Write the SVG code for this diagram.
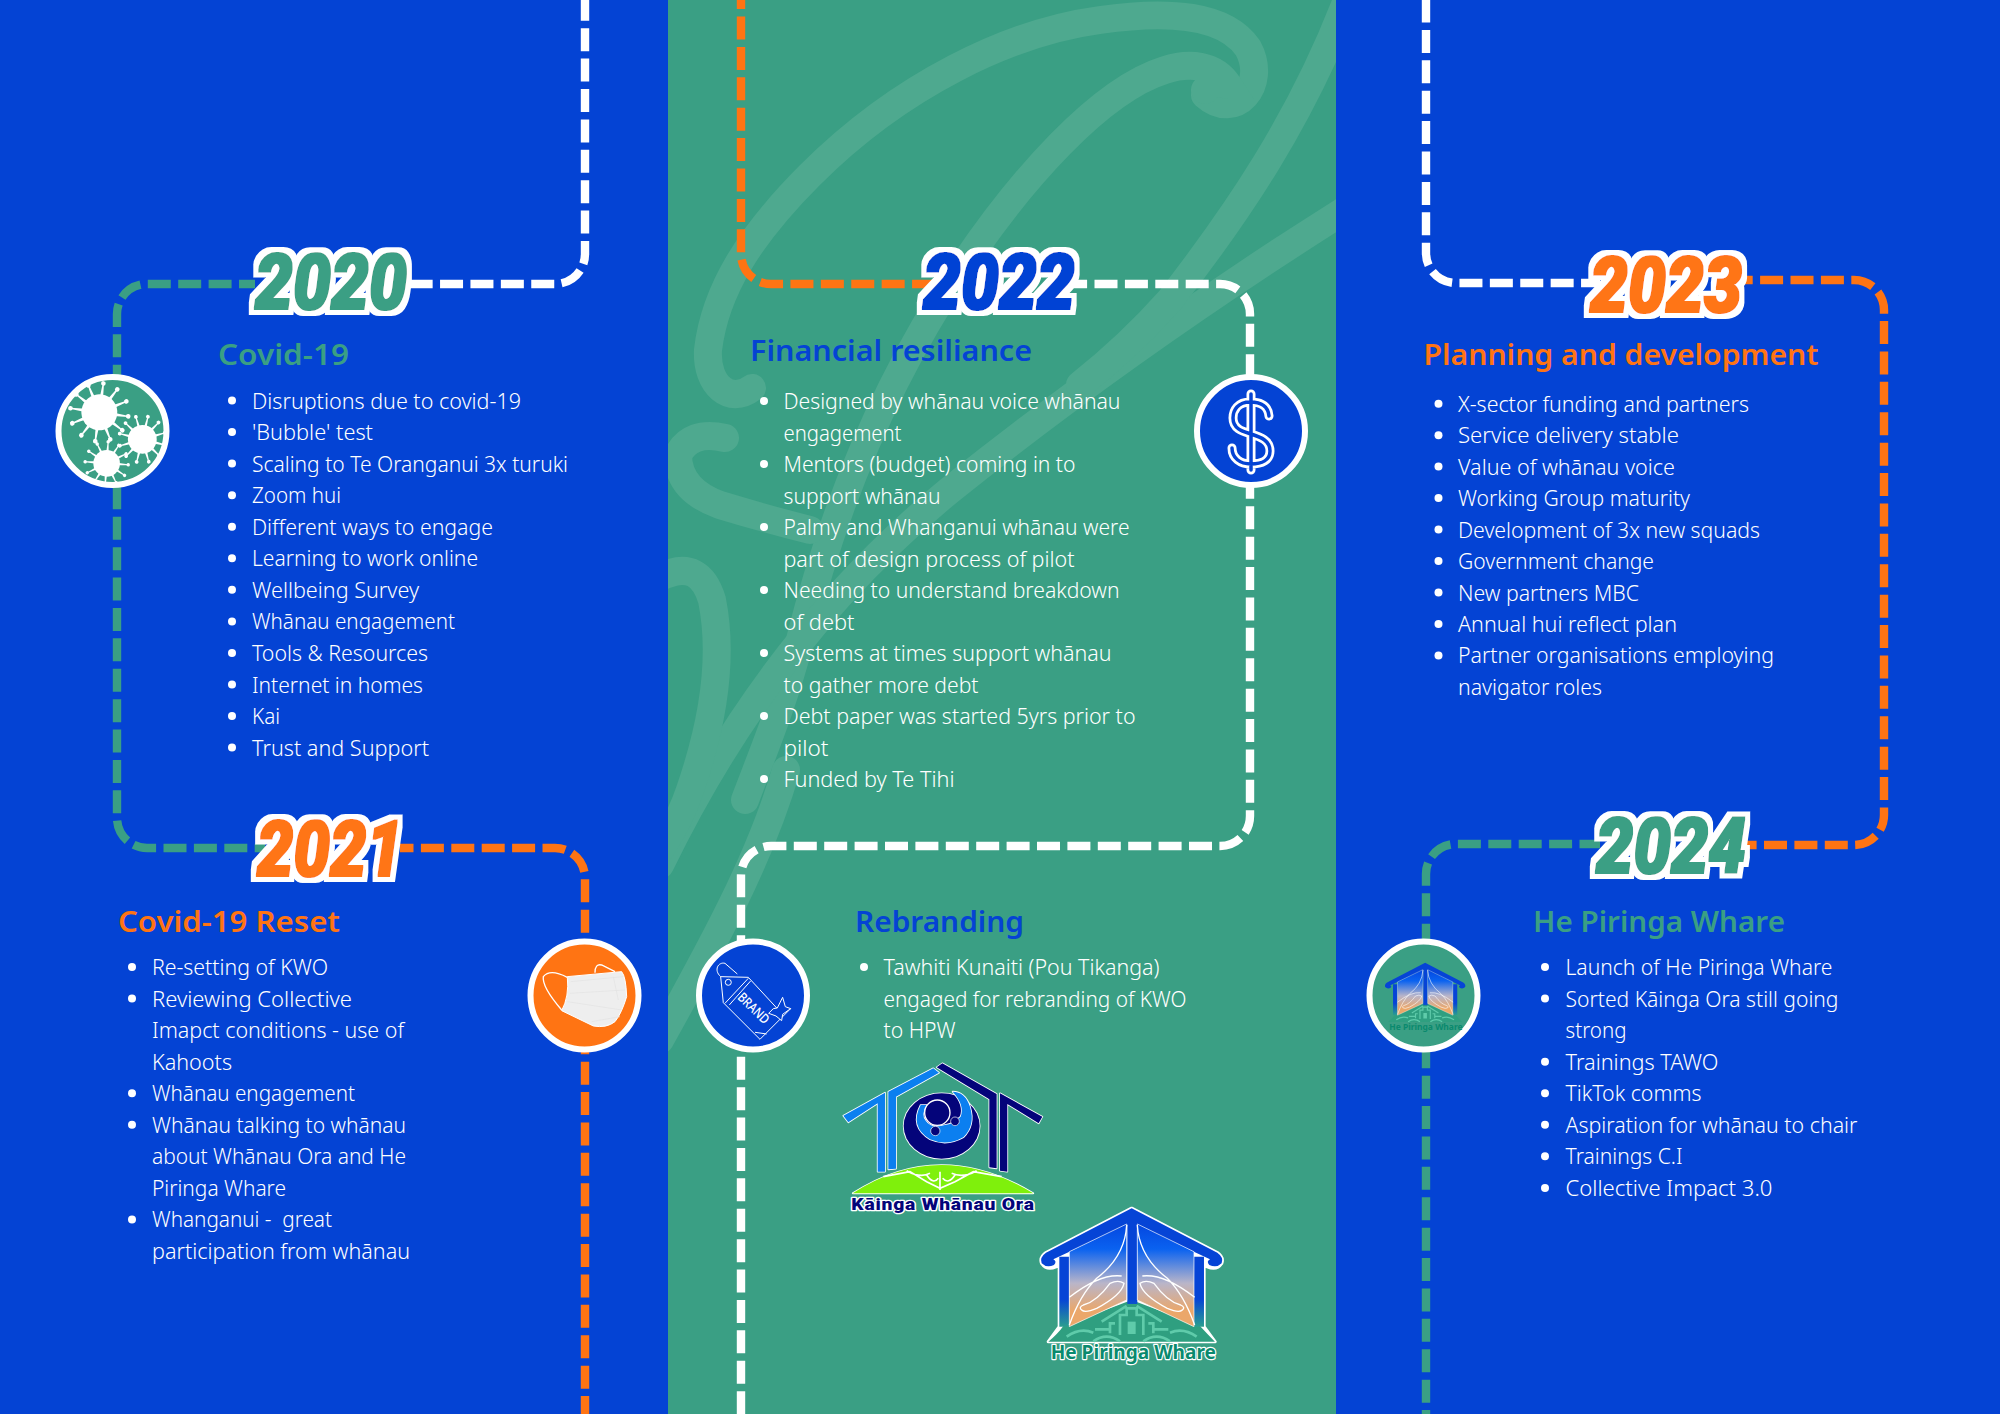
<svg xmlns="http://www.w3.org/2000/svg" xmlns:xlink="http://www.w3.org/1999/xlink" width="2000" height="1414" viewBox="0 0 2000 1414">
<style>
text{font-family:"Noto Sans","Open Sans",sans-serif}
.b{font-size:21px;font-weight:300;fill:#fff;transform:translate(0,1px)}
.h{font-size:29px;font-weight:600;transform:translate(0,.5px)}
.y{font-family:Roboto,"Liberation Sans",sans-serif;font-size:77px;font-weight:900;font-style:italic;filter:url(#out)}
.d{fill:#fff}
.c{fill:none;stroke-width:8.4;stroke-dasharray:23 7.4}
.sw{fill:none;stroke:#4ea98f;stroke-linecap:round;stroke-width:28}
.ring{stroke:#fff;stroke-width:6}
.ln{fill:none;stroke:#fff;stroke-width:3;stroke-linejoin:round}
.gr{fill:#3a9f84}.bl{fill:#0443d4}.or{fill:#ff7413}
.ob{stroke:#fff;stroke-width:5;stroke-linejoin:round;paint-order:stroke}
</style>
<defs>
<filter id="out" x="-20%" y="-30%" width="140%" height="160%">
<feMorphology in="SourceGraphic" operator="dilate" radius="1.4" result="bold"/>
<feMorphology in="SourceAlpha" operator="dilate" radius="5.5" result="w"/>
<feFlood flood-color="#fff"/><feComposite in2="w" operator="in" result="white"/>
<feMerge><feMergeNode in="white"/><feMergeNode in="bold"/></feMerge>
</filter>
<clipPath id="pc"><rect x="668" y="0" width="668" height="1414"/></clipPath>
<linearGradient id="pg" gradientUnits="userSpaceOnUse" x1="0" y1="70" x2="0" y2="380"><stop offset="0" stop-color="#0446e0"/><stop offset=".25" stop-color="#0a62f0"/><stop offset=".58" stop-color="#b9b5c9"/><stop offset=".85" stop-color="#eba76a"/></linearGradient>
<linearGradient id="po" gradientUnits="userSpaceOnUse" x1="0" y1="60" x2="0" y2="390"><stop offset=".72" stop-color="#0644d6"/><stop offset="1" stop-color="#2fa887"/></linearGradient>
<g id="sp"><path d="M0 -.16L1.72 -.04V.04L0 .16Z" fill="#fff"/><circle cx="1.75" cy="0" r=".14" fill="#fff"/></g>
<g id="vi"><circle r="1.08" fill="#fff"/><use xlink:href="#sp"/><use xlink:href="#sp" transform="rotate(30)"/><use xlink:href="#sp" transform="rotate(60)"/><use xlink:href="#sp" transform="rotate(90)"/><use xlink:href="#sp" transform="rotate(120)"/><use xlink:href="#sp" transform="rotate(150)"/><use xlink:href="#sp" transform="rotate(180)"/><use xlink:href="#sp" transform="rotate(210)"/><use xlink:href="#sp" transform="rotate(240)"/><use xlink:href="#sp" transform="rotate(270)"/><use xlink:href="#sp" transform="rotate(300)"/><use xlink:href="#sp" transform="rotate(330)"/></g>
<g id="hl"><path d="M290 75Q285 170 200 235Q150 285 118 375M118 292Q210 220 275 228M155 330Q165 340 200 325Q275 285 282 250Q265 238 240 250Q200 305 160 315Q145 322 155 330Z" fill="none" stroke="#fff" stroke-width="4"/></g>
<g id="hpw">
<path d="M55 425Q85 400 100 378L305 300L510 378Q530 400 555 425Z" fill="#2f9f80"/>
<path d="M270 405V345H290V325H320V345H340V405M240 400V370H255M370 400V370H355M195 388H240M370 388H415M215 365L290 318M395 365L320 318M110 410Q150 382 190 398M500 410Q460 382 420 398M190 424Q230 396 270 424M340 424Q380 396 420 424" fill="none" stroke="#5fcbaa" stroke-width="8"/>
<path d="M293 365H317V402H293Z" fill="#5fcbaa"/>
<path d="M305 25L562 158Q582 172 575 190Q560 205 538 195Q528 185 540 178L305 68L70 178Q82 185 72 195Q50 205 35 190Q28 172 48 158Z" fill="#0644d6"/>
<path d="M88 170H118V380H88ZM492 170H522V380H492ZM292 65H322V312H292Z" fill="url(#po)"/>
<path d="M118 155L290 72V300L118 380Z" fill="url(#pg)" stroke="#fff" stroke-width="2"/>
<path d="M322 72L492 155V380L322 300Z" fill="url(#pg)" stroke="#fff" stroke-width="2"/>
<use xlink:href="#hl"/><use xlink:href="#hl" transform="translate(612,0) scale(-1,1)"/>
</g>
</defs>

<rect id="bg" width="2000" height="1414" fill="#0443d4"/>
<rect id="panel" x="668" width="668" height="1414" class="gr"/>
<g id="swirl" clip-path="url(#pc)">
<path class="sw" d="M1205 95C1235 122 1268 85 1248 48C1225 15 1170 10 1100 20C1010 32 900 85 810 175C750 235 715 290 708 350C706 385 730 405 752 388"/>
<path class="sw" d="M1205 90C1215 78 1222 85 1228 85C1215 65 1190 62 1165 70C1100 90 1020 180 960 270C900 360 840 480 800 640C785 700 760 760 745 800"/>
<path class="sw" stroke-width="30" d="M1345 210C1250 270 1100 370 950 490C840 580 740 700 660 865"/>
<path class="sw" stroke-width="24" d="M1345 5C1300 120 1240 210 1170 300Q1130 345 1080 385"/>
<path class="sw" stroke-width="26" d="M725 438Q690 430 678 455Q678 490 720 505Q770 520 810 530"/>
<path class="sw" stroke-width="28" d="M665 575Q700 560 712 600Q728 680 690 790Q680 820 660 850"/>
<path class="sw" d="M786 770C760 860 710 950 660 1040"/>
</g>

<g id="connectors">
<path class="c" stroke="#fff" stroke-dashoffset="2.2" d="M585 0V254A30 30 0 0 1 555 284H410"/>
<path class="c" stroke="#3a9f84" stroke-dashoffset="7" d="M255 284H147A30 30 0 0 0 117 314V818A30 30 0 0 0 147 848H265"/>
<path class="c" stroke="#ff7413" stroke-dashoffset="9.5" d="M400 848H555A30 30 0 0 1 585 878V1414"/>
<path class="c" stroke="#ff7413" stroke-dashoffset="13.9" d="M741 0V254A30 30 0 0 0 771 284H935"/>
<path class="c" stroke="#fff" stroke-dashoffset="5.9" d="M1070 284H1220A30 30 0 0 1 1250 314V816A30 30 0 0 1 1220 846H771A30 30 0 0 0 741 876V1414"/>
<path class="c" stroke="#fff" stroke-dashoffset=".5" d="M1426 0V253A30 30 0 0 0 1456 283H1600"/>
<path class="c" stroke="#ff7413" stroke-dashoffset="10.3" d="M1740 280H1854A30 30 0 0 1 1884 310V815A30 30 0 0 1 1854 845H1740"/>
<path class="c" stroke="#3a9f84" stroke-dashoffset="2.5" d="M1600 844H1456A30 30 0 0 0 1426 874V1414"/>
</g>

<g id="n2020">
<circle cx="112.5" cy="431" r="54" class="gr ring"/>
<g transform="translate(50,370) scale(.3333)"><use xlink:href="#vi" transform="translate(148,127) scale(50) rotate(8)"/><use xlink:href="#vi" transform="translate(277,208) scale(40) rotate(14)"/><use xlink:href="#vi" transform="translate(170,280) scale(37) rotate(4)"/></g>
<text class="y gr" x="255" y="309" textLength="152" lengthAdjust="spacingAndGlyphs">2020</text>
<text class="h gr" x="218" y="364" textLength="131" lengthAdjust="spacingAndGlyphs">Covid-19</text>
<g class="d"><circle cx="232" cy="400.5" r="4"/><circle cx="232" cy="432" r="4"/><circle cx="232" cy="463.6" r="4"/><circle cx="232" cy="495.2" r="4"/><circle cx="232" cy="526.7" r="4"/><circle cx="232" cy="558.3" r="4"/><circle cx="232" cy="589.8" r="4"/><circle cx="232" cy="621.4" r="4"/><circle cx="232" cy="653" r="4"/><circle cx="232" cy="684.5" r="4"/><circle cx="232" cy="716" r="4"/><circle cx="232" cy="747.6" r="4"/></g>
<text class="b" x="252" y="407.5" textLength="269" lengthAdjust="spacingAndGlyphs">Disruptions due to covid-19</text>
<text class="b" x="252" y="439" textLength="121" lengthAdjust="spacingAndGlyphs">'Bubble' test</text>
<text class="b" x="252" y="470.6" textLength="316" lengthAdjust="spacingAndGlyphs">Scaling to Te Oranganui 3x turuki</text>
<text class="b" x="252" y="502.2" textLength="89" lengthAdjust="spacingAndGlyphs">Zoom hui</text>
<text class="b" x="252" y="533.7" textLength="241" lengthAdjust="spacingAndGlyphs">Different ways to engage</text>
<text class="b" x="252" y="565.3" textLength="226" lengthAdjust="spacingAndGlyphs">Learning to work online</text>
<text class="b" x="252" y="596.8" textLength="167" lengthAdjust="spacingAndGlyphs">Wellbeing Survey</text>
<text class="b" x="252" y="628.4" textLength="203" lengthAdjust="spacingAndGlyphs">Whānau engagement</text>
<text class="b" x="252" y="660" textLength="176" lengthAdjust="spacingAndGlyphs">Tools &amp; Resources</text>
<text class="b" x="252" y="691.5" textLength="171" lengthAdjust="spacingAndGlyphs">Internet in homes</text>
<text class="b" x="252" y="723" textLength="28" lengthAdjust="spacingAndGlyphs">Kai</text>
<text class="b" x="252" y="754.6" textLength="177" lengthAdjust="spacingAndGlyphs">Trust and Support</text>
</g>

<g id="n2021">
<circle cx="584.5" cy="995.5" r="54" class="or ring"/>
<g transform="translate(480,780) scale(.3333)">
<path d="M262 592Q210 565 190 590Q185 620 245 690M345 578Q345 550 365 555L405 575" fill="none" stroke="#fff" stroke-width="4"/>
<path d="M262 590L425 575Q438 590 440 650Q425 700 405 725Q380 745 340 738L245 692Q268 650 262 590Z" fill="#eee" stroke="#fff" stroke-width="3"/>
<path d="M272 605L430 590M270 640L435 630M262 665L425 690M400 590L415 660M335 725L420 710" fill="none" stroke="#e2e2e2" stroke-width="2"/>
</g>
<text class="y or" x="257" y="875.5" textLength="146" lengthAdjust="spacingAndGlyphs">2021</text>
<text class="h or" x="118" y="931" textLength="222" lengthAdjust="spacingAndGlyphs">Covid-19 Reset</text>
<g class="d"><circle cx="132" cy="967" r="4"/><circle cx="132" cy="998.6" r="4"/><circle cx="132" cy="1093.2" r="4"/><circle cx="132" cy="1124.8" r="4"/><circle cx="132" cy="1219.4" r="4"/></g>
<text class="b" x="152" y="974" textLength="176" lengthAdjust="spacingAndGlyphs">Re-setting of KWO</text>
<text class="b" x="152" y="1005.6" textLength="200" lengthAdjust="spacingAndGlyphs">Reviewing Collective</text>
<text class="b" x="152" y="1037.1" textLength="252" lengthAdjust="spacingAndGlyphs">Imapct conditions - use of</text>
<text class="b" x="152" y="1068.7" textLength="80" lengthAdjust="spacingAndGlyphs">Kahoots</text>
<text class="b" x="152" y="1100.2" textLength="203" lengthAdjust="spacingAndGlyphs">Whānau engagement</text>
<text class="b" x="152" y="1131.8" textLength="254" lengthAdjust="spacingAndGlyphs">Whānau talking to whānau</text>
<text class="b" x="152" y="1163.3" textLength="254" lengthAdjust="spacingAndGlyphs">about Whānau Ora and He</text>
<text class="b" x="152" y="1194.9" textLength="134" lengthAdjust="spacingAndGlyphs">Piringa Whare</text>
<text class="b" x="152" y="1226.4" textLength="180" lengthAdjust="spacingAndGlyphs" xml:space="preserve">Whanganui -  great</text>
<text class="b" x="152" y="1258" textLength="258" lengthAdjust="spacingAndGlyphs">participation from whānau</text>
</g>

<g id="n2022">
<circle cx="1251" cy="431" r="54" class="bl ring"/>
<path d="M1269 416C1268 405 1260 402 1250 402C1238 402 1233 410 1233 418C1233 430 1245 432 1251 434C1260 437 1270 440 1270 451C1270 460 1262 464 1251 464C1240 464 1232 458 1232 448M1251 394V470" fill="none" stroke="#fff" stroke-width="9" stroke-linecap="round"/>
<path d="M1269 416C1268 405 1260 402 1250 402C1238 402 1233 410 1233 418C1233 430 1245 432 1251 434C1260 437 1270 440 1270 451C1270 460 1262 464 1251 464C1240 464 1232 458 1232 448M1251 394V470" fill="none" stroke="#0443d4" stroke-width="3.5" stroke-linecap="round"/>
<text class="y bl" x="923" y="309" textLength="152" lengthAdjust="spacingAndGlyphs">2022</text>
<text class="h bl" x="750" y="360" textLength="282" lengthAdjust="spacingAndGlyphs">Financial resiliance</text>
<g class="d"><circle cx="764" cy="401" r="4"/><circle cx="764" cy="464" r="4"/><circle cx="764" cy="527" r="4"/><circle cx="764" cy="590" r="4"/><circle cx="764" cy="653" r="4"/><circle cx="764" cy="716" r="4"/><circle cx="764" cy="779" r="4"/></g>
<text class="b" x="783.5" y="408" textLength="337" lengthAdjust="spacingAndGlyphs">Designed by whānau voice whānau</text>
<text class="b" x="783.5" y="439.5" textLength="118" lengthAdjust="spacingAndGlyphs">engagement</text>
<text class="b" x="783.5" y="471" textLength="292" lengthAdjust="spacingAndGlyphs">Mentors (budget) coming in to</text>
<text class="b" x="783.5" y="502.5" textLength="157" lengthAdjust="spacingAndGlyphs">support whānau</text>
<text class="b" x="783.5" y="534" textLength="346" lengthAdjust="spacingAndGlyphs">Palmy and Whanganui whānau were</text>
<text class="b" x="783.5" y="565.5" textLength="291" lengthAdjust="spacingAndGlyphs">part of design process of pilot</text>
<text class="b" x="783.5" y="597" textLength="336" lengthAdjust="spacingAndGlyphs">Needing to understand breakdown</text>
<text class="b" x="783.5" y="628.5" textLength="71" lengthAdjust="spacingAndGlyphs">of debt</text>
<text class="b" x="783.5" y="660" textLength="328" lengthAdjust="spacingAndGlyphs">Systems at times support whānau</text>
<text class="b" x="783.5" y="691.5" textLength="195" lengthAdjust="spacingAndGlyphs">to gather more debt</text>
<text class="b" x="783.5" y="723" textLength="352" lengthAdjust="spacingAndGlyphs">Debt paper was started 5yrs prior to</text>
<text class="b" x="783.5" y="754.5" textLength="45" lengthAdjust="spacingAndGlyphs">pilot</text>
<text class="b" x="783.5" y="786" textLength="171" lengthAdjust="spacingAndGlyphs">Funded by Te Tihi</text>
</g>

<g id="nRebranding">
<circle cx="753" cy="995.5" r="54" class="bl ring"/>
<g transform="translate(480,780) scale(.3333)">
<path class="ln" d="M722 590L805 592L905 700L932 686L840 778L730 668ZM735 670L805 595M748 675L812 603M825 757L860 762"/>
<path class="ln" d="M722 590C700 570 715 545 735 550L772 582"/>
<circle class="ln" cx="745" cy="607" r="9"/>
<path d="M892 684L908 652L916 680L932 686L908 703L905 722L888 708L866 700L880 686Z" fill="#0443d4" stroke="#fff" stroke-width="3" stroke-linejoin="round"/>
<text x="0" y="0" transform="translate(770,655) rotate(44)" font-size="40" fill="#fff" font-weight="500" textLength="115" lengthAdjust="spacingAndGlyphs">BRAND</text>
</g>
<text class="h bl" x="855" y="931" textLength="169" lengthAdjust="spacingAndGlyphs">Rebranding</text>
<circle class="d" cx="864" cy="967" r="4"/>
<text class="b" x="883.5" y="974" textLength="276" lengthAdjust="spacingAndGlyphs">Tawhiti Kunaiti (Pou Tikanga)</text>
<text class="b" x="883.5" y="1005.6" textLength="303" lengthAdjust="spacingAndGlyphs">engaged for rebranding of KWO</text>
<text class="b" x="883.5" y="1037" textLength="72" lengthAdjust="spacingAndGlyphs">to HPW</text>
<g id="logoKWO" transform="translate(830,1050) scale(.3333)">
<path class="ob" fill="#0b7ff0" d="M40 197L165 128V365H143V160L55 217Z"/>
<path class="ob" fill="#0b7ff0" d="M175 125L310 55L327 68L198 140V356L175 358Z"/>
<path class="ob" fill="#04047a" d="M320 52L337 40L500 132V355L478 352V148Z"/>
<path class="ob" fill="#04047a" d="M510 130L637 200L626 220L532 162V365L510 362Z"/>
<ellipse class="ob" cx="335" cy="228" rx="114" ry="98" fill="#04047a"/>
<path class="ob" fill="#0b7ff0" d="M272 165Q238 230 300 268Q350 290 400 262Q437 225 420 170Q405 125 368 125Q405 165 392 200Q370 222 345 225Q305 238 287 212Q272 195 290 165Z"/>
<circle cx="322" cy="188" r="38" fill="#04047a" stroke="#fff" stroke-width="4"/>
<circle cx="316" cy="243" r="14" fill="#04047a" stroke="#fff" stroke-width="2"/>
<circle cx="375" cy="214" r="13" fill="#04047a" stroke="#fff" stroke-width="2"/>
<path class="ob" fill="#7ff00c" d="M68 430Q330 260 610 430Z"/>
<path d="M160 380L240 365L290 395L330 415L375 395L430 365L515 380M230 362Q270 385 300 370M440 362Q400 385 365 370M330 365V420M290 375Q310 405 325 385M375 375Q355 405 338 385" fill="none" stroke="#fff" stroke-width="5"/>
<text x="64" y="479" font-size="50" fill="#04047a" stroke="#fff" stroke-width="8" paint-order="stroke" stroke-linejoin="round" textLength="550" lengthAdjust="spacingAndGlyphs" style="font-family:Roboto,'Liberation Sans',sans-serif;font-weight:900;letter-spacing:2px">Kāinga Whānau Ora</text>
</g>
<g id="logoHPW" transform="translate(1030,1200) scale(.3333)">
<path d="M305 25L562 158Q582 172 575 190Q560 212 532 200L522 195V380L555 425H55L88 380V195L78 200Q50 212 35 190Q28 172 48 158Z" fill="#fff" stroke="#fff" stroke-width="10" stroke-linejoin="round"/>
<use xlink:href="#hpw"/>
<text x="62" y="478" font-size="58" font-weight="700" fill="#0a8a6e" stroke="#fff" stroke-width="7" paint-order="stroke" stroke-linejoin="round" textLength="496" lengthAdjust="spacingAndGlyphs">He Piringa Whare</text>
</g>
</g>

<g id="n2023">
<text class="y or" x="1590" y="312" textLength="152" lengthAdjust="spacingAndGlyphs">2023</text>
<text class="h or" x="1423.5" y="364" textLength="395" lengthAdjust="spacingAndGlyphs">Planning and development</text>
<g class="d"><circle cx="1438.5" cy="403.7" r="4"/><circle cx="1438.5" cy="435.2" r="4"/><circle cx="1438.5" cy="466.6" r="4"/><circle cx="1438.5" cy="498.1" r="4"/><circle cx="1438.5" cy="529.5" r="4"/><circle cx="1438.5" cy="561" r="4"/><circle cx="1438.5" cy="592.5" r="4"/><circle cx="1438.5" cy="623.9" r="4"/><circle cx="1438.5" cy="655.4" r="4"/></g>
<text class="b" x="1458" y="410.7" textLength="291" lengthAdjust="spacingAndGlyphs">X-sector funding and partners</text>
<text class="b" x="1458" y="442.2" textLength="221" lengthAdjust="spacingAndGlyphs">Service delivery stable</text>
<text class="b" x="1458" y="473.6" textLength="217" lengthAdjust="spacingAndGlyphs">Value of whānau voice</text>
<text class="b" x="1458" y="505.1" textLength="232" lengthAdjust="spacingAndGlyphs">Working Group maturity</text>
<text class="b" x="1458" y="536.5" textLength="302" lengthAdjust="spacingAndGlyphs">Development of 3x new squads</text>
<text class="b" x="1458" y="568" textLength="196" lengthAdjust="spacingAndGlyphs">Government change</text>
<text class="b" x="1458" y="599.5" textLength="181" lengthAdjust="spacingAndGlyphs">New partners MBC</text>
<text class="b" x="1458" y="630.9" textLength="219" lengthAdjust="spacingAndGlyphs">Annual hui reflect plan</text>
<text class="b" x="1458" y="662.4" textLength="316" lengthAdjust="spacingAndGlyphs">Partner organisations employing</text>
<text class="b" x="1458" y="693.8" textLength="144" lengthAdjust="spacingAndGlyphs">navigator roles</text>
</g>

<g id="n2024">
<circle cx="1423.5" cy="995.5" r="54" class="gr ring"/>
<g transform="translate(1380,959) scale(.148)">
<use xlink:href="#hpw"/>
<text x="62" y="478" font-size="60" font-weight="700" fill="#0a8a6e" textLength="496" lengthAdjust="spacingAndGlyphs">He Piringa Whare</text>
</g>
<text class="y gr" x="1596" y="872.5" textLength="150" lengthAdjust="spacingAndGlyphs">2024</text>
<text class="h gr" x="1533" y="931" textLength="252" lengthAdjust="spacingAndGlyphs">He Piringa Whare</text>
<g class="d"><circle cx="1545" cy="967" r="4"/><circle cx="1545" cy="998.6" r="4"/><circle cx="1545" cy="1061.7" r="4"/><circle cx="1545" cy="1093.2" r="4"/><circle cx="1545" cy="1124.8" r="4"/><circle cx="1545" cy="1156.3" r="4"/><circle cx="1545" cy="1187.9" r="4"/></g>
<text class="b" x="1565.5" y="974" textLength="267" lengthAdjust="spacingAndGlyphs">Launch of He Piringa Whare</text>
<text class="b" x="1565.5" y="1005.6" textLength="273" lengthAdjust="spacingAndGlyphs">Sorted Kāinga Ora still going</text>
<text class="b" x="1565.5" y="1037.1" textLength="61" lengthAdjust="spacingAndGlyphs">strong</text>
<text class="b" x="1565.5" y="1068.7" textLength="153" lengthAdjust="spacingAndGlyphs">Trainings TAWO</text>
<text class="b" x="1565.5" y="1100.2" textLength="136" lengthAdjust="spacingAndGlyphs">TikTok comms</text>
<text class="b" x="1565.5" y="1131.8" textLength="292" lengthAdjust="spacingAndGlyphs">Aspiration for whānau to chair</text>
<text class="b" x="1565.5" y="1163.3" textLength="117" lengthAdjust="spacingAndGlyphs">Trainings C.I</text>
<text class="b" x="1565.5" y="1194.9" textLength="207" lengthAdjust="spacingAndGlyphs">Collective Impact 3.0</text>
</g>
</svg>
